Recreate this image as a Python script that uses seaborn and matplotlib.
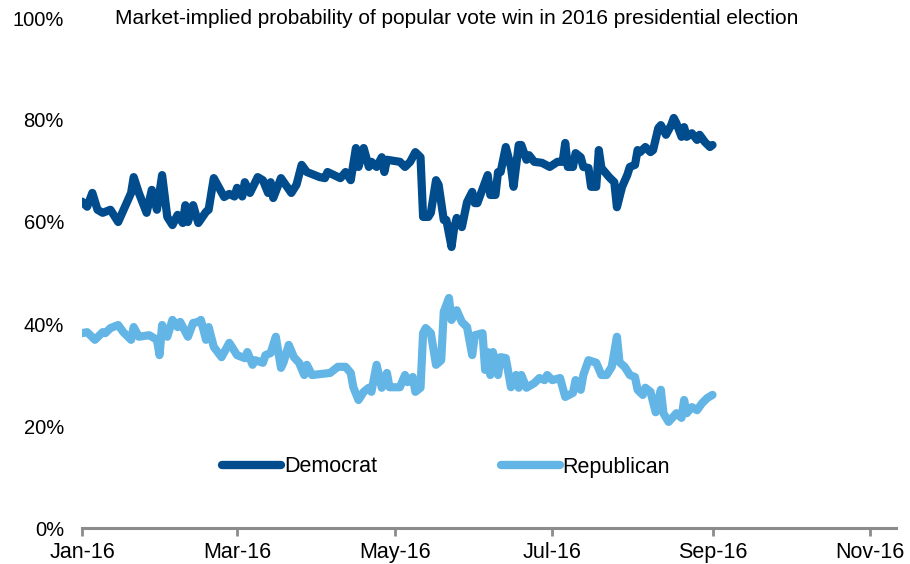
import matplotlib
matplotlib.use("Agg")
import matplotlib.pyplot as plt
import matplotlib.dates as mdates
import seaborn as sns
import pandas as pd
import numpy as np
from matplotlib.lines import Line2D

# ---- data (days since 2016-01-01, probability in %) ----
dem_day = [0, 2, 4, 6, 8, 11, 14, 19, 20, 22, 25, 27, 29, 31, 33, 35, 37, 39, 40, 41,
           43, 45, 48, 49, 51, 55, 57, 59, 60, 62, 63, 65, 68, 70, 72, 73, 74, 77, 81, 83,
           85, 87, 92, 94, 95, 100, 102, 104, 106, 107, 109, 111, 112, 114, 116, 117, 118, 123, 125, 127,
           129, 131, 132, 134, 135, 137, 138, 140, 141, 143, 144, 145, 147, 149, 151, 152, 153, 157, 158, 160,
           161, 162, 164, 166, 167, 169, 170, 172, 173, 175, 178, 181, 184, 186, 187, 188, 190, 191, 193, 194,
           196, 197, 199, 200, 201, 204, 206, 207, 209, 211, 212, 214, 215, 216, 218, 220, 221, 223, 224, 226,
           228, 229, 230, 232, 233, 234, 236, 238, 239, 241, 243, 244]
dem_val = [64.0, 63.0, 65.7, 62.4, 61.8, 62.4, 60.0, 65.7, 68.8, 65.7, 61.8, 66.3, 62.4, 69.2, 61.0, 59.4, 61.4, 59.8, 63.3, 60.0,
           63.3, 59.8, 62.0, 62.4, 68.6, 64.9, 65.5, 65.0, 66.7, 65.0, 67.8, 65.7, 68.8, 68.2, 65.7, 67.8, 64.7, 68.6, 65.7, 67.3,
           71.2, 69.8, 68.8, 68.6, 69.8, 68.6, 69.8, 68.2, 74.5, 70.8, 74.5, 70.8, 71.8, 70.8, 72.7, 69.8, 72.2, 71.8, 70.8, 71.8,
           73.7, 72.7, 61.0, 61.0, 61.8, 68.2, 67.3, 60.4, 60.4, 55.1, 58.8, 60.8, 59.0, 63.9, 65.9, 63.7, 63.7, 69.2, 65.3, 65.3,
           69.8, 69.8, 74.7, 70.8, 66.9, 75.1, 75.1, 72.2, 73.1, 71.8, 71.6, 70.8, 71.8, 71.8, 75.5, 70.8, 70.8, 73.5, 72.7, 70.8,
           70.6, 66.9, 66.9, 74.1, 70.6, 68.8, 67.8, 62.9, 66.9, 69.2, 70.8, 71.2, 74.1, 73.7, 74.7, 73.7, 74.1, 78.4, 79.0, 77.1,
           79.0, 80.4, 79.4, 76.7, 78.6, 76.7, 77.4, 76.1, 77.1, 75.7, 74.7, 75.1]

rep_day = [0, 2, 5, 8, 9, 11, 14, 16, 19, 20, 22, 26, 27, 29, 30, 31, 33, 35, 37, 38,
           41, 43, 45, 46, 48, 49, 51, 54, 57, 60, 63, 64, 66, 67, 70, 71, 73, 75, 77, 78,
           80, 82, 84, 86, 87, 89, 96, 99, 102, 104, 105, 107, 109, 111, 112, 114, 116, 118, 119, 123,
           125, 126, 128, 129, 131, 132, 133, 135, 137, 139, 140, 142, 143, 145, 147, 149, 151, 152, 155, 156,
           157, 158, 159, 161, 162, 164, 166, 168, 169, 170, 172, 175, 177, 179, 180, 182, 185, 187, 190, 191,
           193, 194, 196, 199, 201, 203, 205, 207, 208, 210, 212, 214, 215, 217, 218, 220, 222, 224, 225, 227,
           230, 232, 233, 234, 236, 238, 240, 242, 244]
rep_val = [38.2, 38.4, 36.9, 38.4, 38.2, 39.2, 39.8, 38.4, 36.9, 39.4, 37.5, 37.8, 37.5, 36.9, 33.9, 39.8, 37.5, 40.8, 39.4, 40.4,
           37.5, 40.2, 40.4, 40.8, 36.9, 39.4, 35.5, 33.5, 36.3, 33.9, 33.3, 34.5, 32.0, 32.9, 32.4, 33.9, 34.3, 37.5, 31.4, 32.5,
           35.9, 33.5, 32.4, 30.0, 32.0, 30.0, 30.4, 31.6, 31.6, 30.4, 27.6, 25.1, 26.7, 27.5, 26.7, 32.0, 27.5, 30.4, 27.6, 27.6,
           30.0, 28.6, 29.6, 26.7, 27.5, 38.2, 39.2, 38.2, 32.0, 32.9, 42.4, 45.1, 40.8, 42.7, 40.4, 39.4, 33.9, 37.8, 38.2, 31.0,
           34.5, 30.0, 34.5, 30.0, 33.5, 33.3, 27.6, 30.0, 27.5, 30.0, 27.5, 28.4, 29.4, 29.0, 30.0, 29.0, 29.4, 25.7, 26.5, 29.0,
           27.1, 30.0, 32.9, 32.4, 30.0, 30.0, 31.6, 37.5, 32.5, 31.6, 30.0, 29.6, 27.1, 26.1, 27.5, 26.7, 22.7, 27.1, 22.5, 20.8,
           22.5, 21.6, 25.1, 22.5, 23.7, 23.1, 24.5, 25.5, 26.1]

series_names = ["Democrat", "Republican"]
series_colors = ["#004C8C", "#63B5E5"]
title_text = "Market-implied probability of popular vote win in 2016 presidential election"
y_ticks = [0, 20, 40, 60, 80, 100]
x_ticks = ["2016-01-01", "2016-03-01", "2016-05-01", "2016-07-01", "2016-09-01", "2016-11-01"]

start = pd.Timestamp("2016-01-01")
df = pd.concat([
    pd.DataFrame({"date": start + pd.to_timedelta(dem_day, unit="D"), "value": dem_val, "party": series_names[0]}),
    pd.DataFrame({"date": start + pd.to_timedelta(rep_day, unit="D"), "value": rep_val, "party": series_names[1]}),
], ignore_index=True)

sns.set_theme(style="white")
plt.rcParams["font.family"] = ["Liberation Sans", "DejaVu Sans"]

fig = plt.figure(figsize=(9.1, 5.64), dpi=100)
ax = fig.add_axes([82 / 910, 36 / 564, (896 - 82) / 910, (528 - 18) / 564])

sns.lineplot(data=df, x="date", y="value", hue="party", palette=series_colors,
             linewidth=5.9, ax=ax, legend=False, estimator=None, sort=True)
for ln in ax.get_lines():
    ln.set_solid_capstyle("round")
    ln.set_solid_joinstyle("round")

ax.set_ylim(0, 100)
ax.set_xlim(pd.Timestamp("2016-01-01"), pd.Timestamp("2016-11-11"))
ax.set_yticks(y_ticks)
ax.set_yticklabels([f"{v}%" for v in y_ticks])
ax.set_xticks(pd.to_datetime(x_ticks))
ax.xaxis.set_major_formatter(mdates.DateFormatter("%b-%y"))
ax.set_xlabel("")
ax.set_ylabel("")

for s in ["top", "right", "left"]:
    ax.spines[s].set_visible(False)
ax.spines["bottom"].set_color("#8C8C8C")
ax.spines["bottom"].set_linewidth(2.2)
ax.tick_params(axis="x", which="major", direction="out", length=6, width=2,
               color="#8C8C8C", labelsize=15.5, pad=4, labelcolor="black", bottom=True)
ax.tick_params(axis="y", length=0, labelsize=14.5, pad=13, labelcolor="black")
ax.grid(False)

ax.text(115 / 910, 1 - 18 / 564, title_text, transform=fig.transFigure,
        fontsize=15, va="center", ha="left", color="black")

handles = [Line2D([0], [0], color=c, lw=6, solid_capstyle="round") for c in series_colors]
leg = ax.legend(handles, series_names, loc="center left",
                bbox_to_anchor=((222 - 82) / (896 - 82), (528 - 467) / (528 - 18)),
                ncol=2, frameon=False, fontsize=15.5, handlelength=2.75, handletextpad=0.12,
                columnspacing=5.75, borderaxespad=0, borderpad=0, labelcolor="black")

fig.savefig("out.png", dpi=100)
